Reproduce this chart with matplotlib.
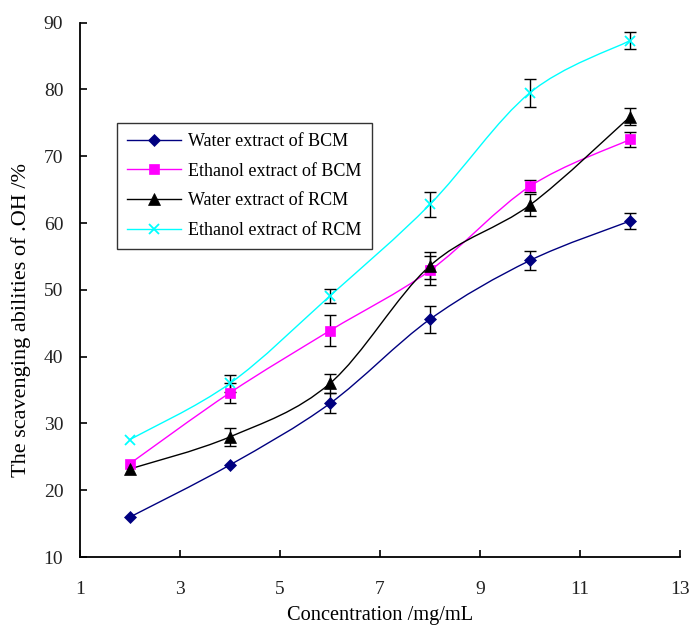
import matplotlib
matplotlib.use("Agg")
import matplotlib.pyplot as plt
from matplotlib.path import Path
from matplotlib.patches import PathPatch
from matplotlib.lines import Line2D

plt.rcParams['font.family'] = ['Liberation Serif', 'DejaVu Serif']

conc = [2, 4, 6, 8, 10, 12]
names = ["Water extract of BCM", "Ethanol extract of BCM",
         "Water extract of RCM", "Ethanol extract of RCM"]
water_bcm = [16.0, 23.8, 33.0, 45.6, 54.4, 60.3]
water_bcm_err = [0.0, 0.0, 1.5, 2.0, 1.4, 1.2]
ethanol_bcm = [24.0, 34.6, 43.9, 52.9, 65.5, 72.5]
ethanol_bcm_err = [0.0, 1.5, 2.3, 2.2, 0.9, 1.1]
water_rcm = [23.2, 28.0, 36.0, 53.6, 62.7, 75.9]
water_rcm_err = [0.0, 1.3, 1.4, 2.0, 1.6, 1.3]
ethanol_rcm = [27.6, 36.0, 49.1, 62.8, 79.5, 87.3]
ethanol_rcm_err = [0.0, 1.3, 1.1, 1.9, 2.1, 1.3]

series = [water_bcm, ethanol_bcm, water_rcm, ethanol_rcm]
errors = [water_bcm_err, ethanol_bcm_err, water_rcm_err, ethanol_rcm_err]
colors = ['#000080', '#FF00FF', '#000000', '#00FFFF']
markers = ['D', 's', '^', 'x']
msizes = [6, 7, 8, 6.5]

fig = plt.figure(figsize=(6.89, 6.26), dpi=100)
ax = fig.add_axes([0.116, 0.110, 0.871, 0.854])


def smooth_path(xs, ys):
    pts = list(zip(xs, ys))
    n = len(pts)
    verts = [pts[0]]
    codes = [Path.MOVETO]
    for i in range(n - 1):
        p0 = pts[i - 1] if i > 0 else pts[i]
        p1 = pts[i]
        p2 = pts[i + 1]
        p3 = pts[i + 2] if i + 2 < n else pts[i + 1]
        c1 = (p1[0] + (p2[0] - p0[0]) / 6, p1[1] + (p2[1] - p0[1]) / 6)
        c2 = (p2[0] - (p3[0] - p1[0]) / 6, p2[1] - (p3[1] - p1[1]) / 6)
        verts += [c1, c2, p2]
        codes += [Path.CURVE4] * 3
    return Path(verts, codes)


handles = []
for ys, es, c, m, ms, name in zip(series, errors, colors, markers, msizes, names):
    ax.add_patch(PathPatch(smooth_path(conc, ys), facecolor='none',
                           edgecolor=c, lw=1.0, zorder=2))
    ex = [x for x, e in zip(conc, es) if e > 0]
    ey = [y for y, e in zip(ys, es) if e > 0]
    ee = [e for e in es if e > 0]
    ax.errorbar(ex, ey, yerr=ee, fmt='none', ecolor='black',
                elinewidth=1.0, capsize=4.5, capthick=1.0, zorder=3)
    mew = 1.3 if m == 'x' else 0.5
    ax.plot(conc, ys, linestyle='none', marker=m, color=c, markersize=ms,
            markeredgewidth=mew, zorder=4)
    handles.append(Line2D([0], [0], color=c, lw=1.0, marker=m,
                          markersize=ms, markeredgewidth=mew))

ax.set_xlim(1, 13)
ax.set_ylim(10, 90)
ax.set_xticks([1, 3, 5, 7, 9, 11, 13])
ax.set_yticks([10, 20, 30, 40, 50, 60, 70, 80, 90])
for s in ['top', 'right']:
    ax.spines[s].set_visible(False)
for s in ['left', 'bottom']:
    ax.spines[s].set_linewidth(1.3)
ax.tick_params(direction='in', length=5, width=1.2, labelsize=14, pad=12,
               labelcolor='#222222')
ax.tick_params(axis='x', pad=17)

ax.set_xlabel("Concentration /mg/mL", fontsize=14.7, labelpad=6)
ax.set_ylabel("The scavenging abilities of .OH /%", fontsize=16)
ax.yaxis.set_label_coords(-0.082, 0.443)

leg = ax.legend(handles, names, loc='upper left', bbox_to_anchor=(0.062, 0.812),
                borderaxespad=0, fontsize=13, frameon=True, fancybox=False,
                edgecolor='black', handlelength=3.0, handletextpad=0.4,
                labelspacing=0.7, borderpad=0.55)
leg.get_frame().set_linewidth(1.0)

fig.savefig("out.png", dpi=100)
